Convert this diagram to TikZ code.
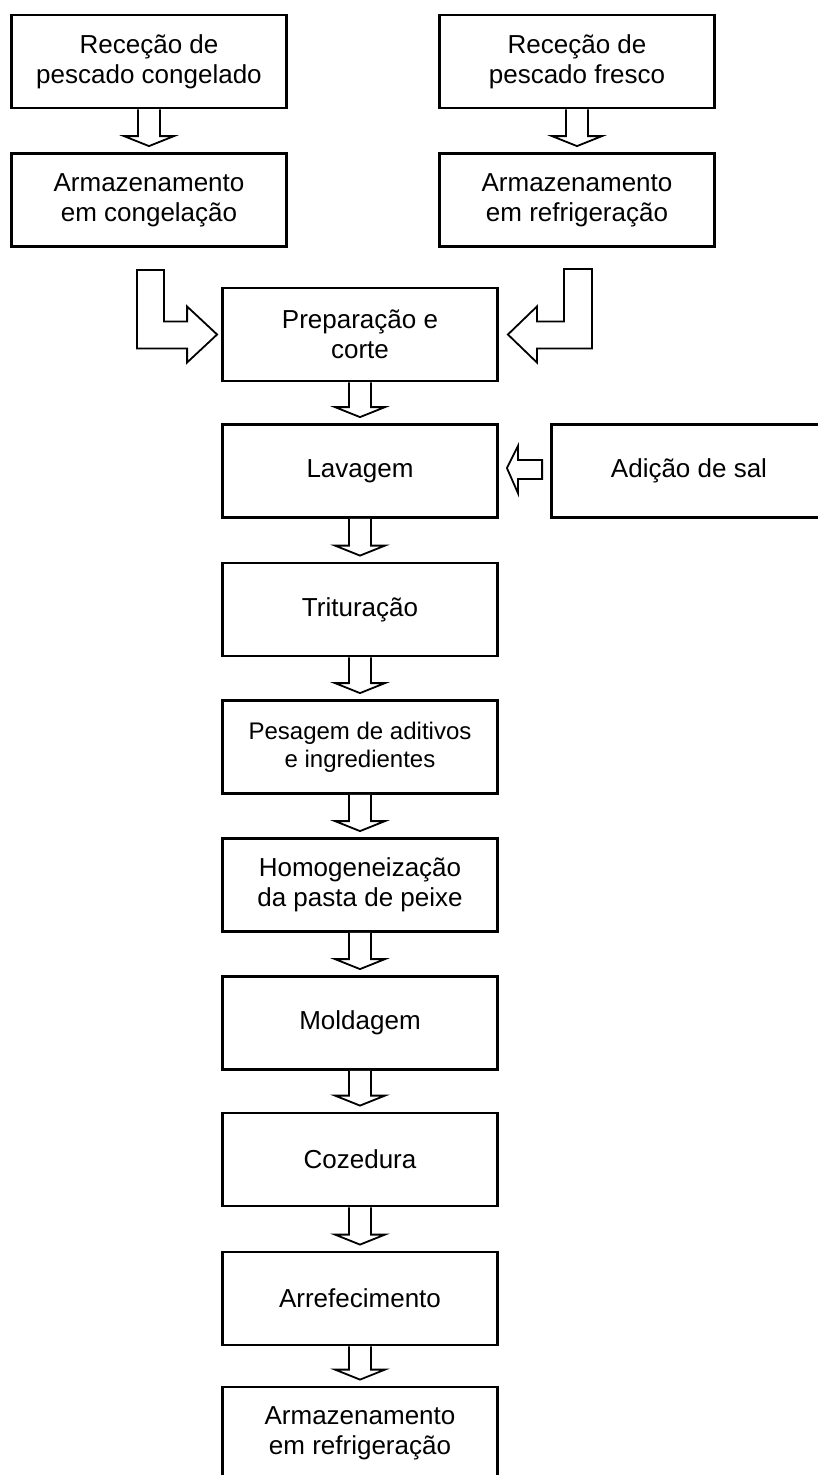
\documentclass[tikz,border=0pt]{standalone}
\usepackage{fontspec}
\setmainfont{Liberation Sans}
\usepackage{tikz}
\usetikzlibrary{calc}

\newcommand{\flowdown}[2]{%
\draw[blockarrow] ($(#1.south)+(-11,0)$)--($(#2.north)+(-11,-16)$)--++(-14,0)--($(#2.north)+(0,-6)$)--($(#2.north)+(25,-16)$)--++(-14,0)--($(#1.south)+(11,0)$);}

\begin{document}
\begin{tikzpicture}[x=1pt,y=-1pt,
  box/.style={shape=rectangle,draw,line width=2.8pt,minimum width=275,minimum height=93,align=center,inner sep=0pt,font=\fontsize{26}{30}\selectfont},
  blockarrow/.style={draw,fill=white,line width=1.8pt,line join=miter}]
\useasboundingbox (0,0) rectangle (818,1475);
\clip (0,0) rectangle (818,1475);
\node(rcong)[box] at (149,61.5){Receção de\\ pescado congelado};
\node(acong)[box] at (149,200){Armazenamento\\ em congelação};
\node(rfres)[box] at (577,61.5){Receção de\\ pescado fresco};
\node(afres)[box] at (577,200){Armazenamento\\ em refrigeração};
\node(prep)[box] at (360,334.5){Preparação e\\ corte};
\node(lav)[box] at (360,471){Lavagem};
\node(sal)[box] at (689,471){Adição de sal};
\node(trit)[box] at (360,609.5){Trituração};
\node(pes)[box,font=\fontsize{24}{28}\selectfont] at (360,747){Pesagem de aditivos\\ e ingredientes};
\node(homog)[box] at (360,885){Homogeneização\\ da pasta de peixe};
\node(mold)[box] at (360,1023){Moldagem};
\node(coz)[box] at (360,1159.5){Cozedura};
\node(arref)[box] at (360,1298.5){Arrefecimento};
\node(armref)[box] at (360,1433.5){Armazenamento\\ em refrigeração};
\coordinate(inL) at (150.5,270);
\coordinate(inR) at (578,269);
\flowdown{rcong}{acong}
\flowdown{rfres}{afres}
\draw[blockarrow] ($(inL)+(-13.5,0)$)--($(inL)+(13.5,0)$)|-($(prep.west)+(-34,-13)$)--++(0,-15)--($(prep.west)+(-4,0)$)--($(prep.west)+(-34,28)$)--++(0,-14)-|($(inL)+(-13.5,0)$)--cycle;
\draw[blockarrow] ($(inR)+(14,0)$)--($(inR)+(-14,0)$)|-($(prep.east)+(38,-13)$)--++(0,-15)--($(prep.east)+(9,0)$)--($(prep.east)+(38,28)$)--++(0,-14)-|($(inR)+(14,0)$)--cycle;
\draw[blockarrow] ($(sal.west)+(-8,-11)$)--($(lav.east)+(19,-11)$)--++(0,-14)--($(lav.east)+(8,-3)$)--($(lav.east)+(19,22)$)--++(0,-14)--($(sal.west)+(-8,8)$)--cycle;
\flowdown{prep}{lav}
\flowdown{lav}{trit}
\flowdown{trit}{pes}
\flowdown{pes}{homog}
\flowdown{homog}{mold}
\flowdown{mold}{coz}
\flowdown{coz}{arref}
\flowdown{arref}{armref}
\end{tikzpicture}
\end{document}
